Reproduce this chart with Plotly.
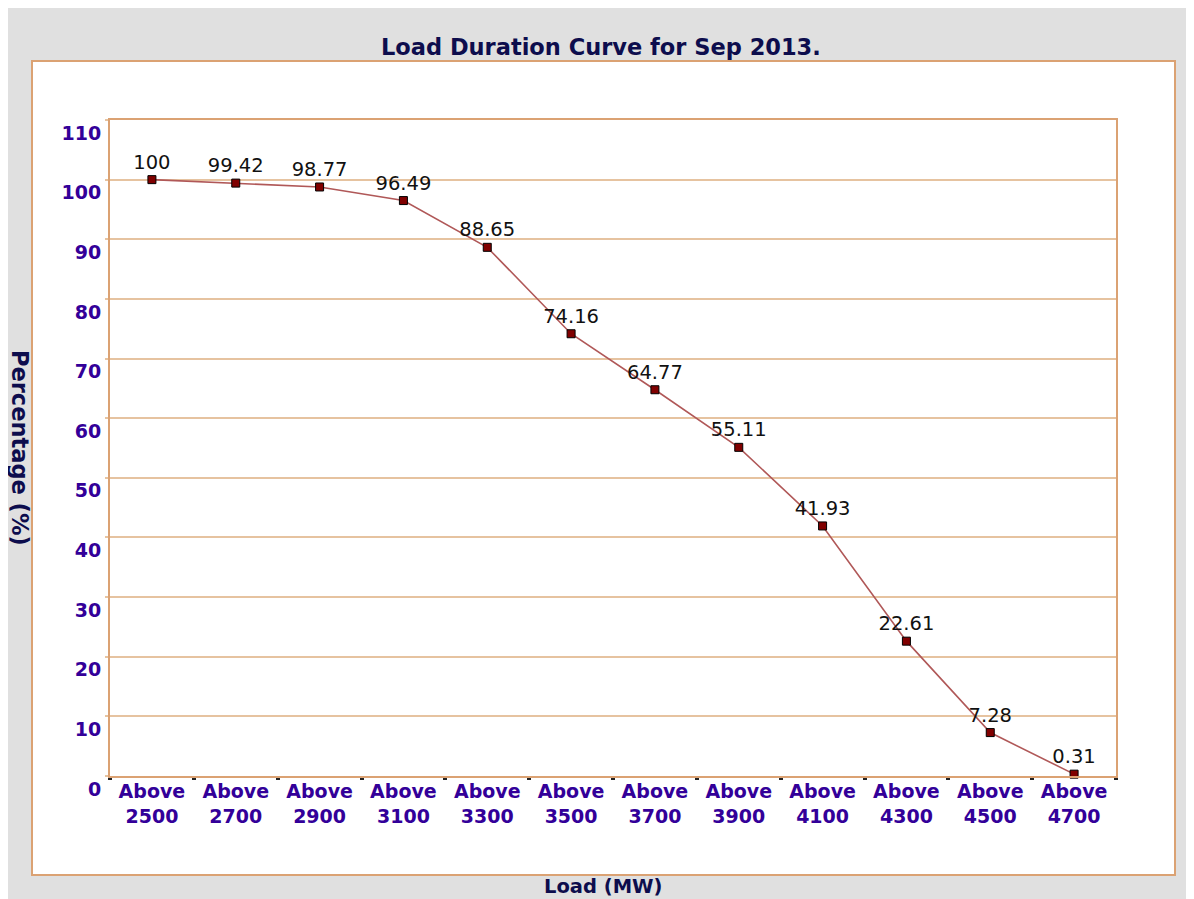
import plotly.graph_objects as go

categories = ["Above<br>2500", "Above<br>2700", "Above<br>2900", "Above<br>3100",
              "Above<br>3300", "Above<br>3500", "Above<br>3700", "Above<br>3900",
              "Above<br>4100", "Above<br>4300", "Above<br>4500", "Above<br>4700"]
percentage = [100, 99.42, 98.77, 96.49, 88.65, 74.16, 64.77, 55.11, 41.93, 22.61, 7.28, 0.31]
value_labels = ["100", "99.42", "98.77", "96.49", "88.65", "74.16", "64.77", "55.11",
                "41.93", "22.61", "7.28", "0.31"]
y_ticks = [0, 10, 20, 30, 40, 50, 60, 70, 80, 90, 100, 110]

# page body has an 8px margin; work in reference pixel coords minus that offset
OFF = 8
W, H = 1194 - OFF, 899 - OFF
L, R, T, B = 110 - OFF, 1116 - OFF, 120 - OFF, 776 - OFF


def px(x):
    return (x - OFF - L) / (R - L)


def py(y):
    return (B - (y - OFF)) / (B - T)


FONT = "DejaVu Sans"
BORDER = "#dba273"
GRID = "#e6c3a0"
TICKC = "#330099"
NAVY = "#0d0d4d"

fig = go.Figure()
fig.add_trace(go.Scatter(
    x=categories, y=percentage, mode="lines+markers+text",
    text=value_labels, textposition="top center",
    textfont=dict(family=FONT, size=19.5, color="#111111"),
    line=dict(color="#b05858", width=1.6),
    marker=dict(symbol="square", size=8, color="#800000", line=dict(color="#000000", width=1)),
    cliponaxis=False, showlegend=False,
))

fig.update_layout(
    width=W, height=H,
    margin=dict(l=L, r=W - R, t=T, b=H - B, pad=0),
    paper_bgcolor="white", plot_bgcolor="white",
    font=dict(family=FONT),
    shapes=[
        dict(type="rect", xref="paper", yref="paper", x0=px(OFF), x1=px(1194), y0=py(899), y1=py(OFF),
             fillcolor="#e0e0e0", line=dict(width=0), layer="below"),
        dict(type="rect", xref="paper", yref="paper", x0=px(32), x1=px(1175), y0=py(875), y1=py(61),
             fillcolor="white", line=dict(color=BORDER, width=2), layer="below"),
    ],
    annotations=[
        dict(text="<b>Load Duration Curve for Sep 2013.</b>", xref="paper", yref="paper",
             x=px(601), y=py(47), xanchor="center", yanchor="middle", showarrow=False,
             font=dict(family=FONT, size=22.5, color=NAVY)),
        dict(text="<b>Percentage (%)</b>", xref="paper", yref="paper",
             x=px(20), y=py(448), xanchor="center", yanchor="middle", showarrow=False,
             textangle=90, font=dict(family=FONT, size=22.5, color=NAVY)),
        dict(text="<b>Load (MW)</b>", xref="paper", yref="paper",
             x=px(603), y=py(886), xanchor="center", yanchor="middle", showarrow=False,
             font=dict(family=FONT, size=19.5, color=NAVY)),
    ],
)

fig.update_xaxes(
    type="category", range=[-0.5, len(categories) - 0.5],
    showgrid=False, showline=True, linecolor=BORDER, linewidth=2, mirror=True,
    ticks="outside", tickson="boundaries", ticklen=2, tickwidth=4, tickcolor="#222222",
    ticklabelstandoff=-3,
    tickfont=dict(family=FONT, size=19, color=TICKC, weight="bold"),
    zeroline=False,
)
fig.update_yaxes(
    range=[0, 110], tickvals=y_ticks, ticktext=[str(v) for v in y_ticks],
    showgrid=True, gridcolor=GRID, gridwidth=2,
    showline=True, linecolor=BORDER, linewidth=2, mirror=True,
    ticks="outside", ticklen=3, tickcolor=GRID, tickwidth=2,
    ticklabelshift=13, ticklabelstandoff=0,
    tickfont=dict(family=FONT, size=19, color=TICKC, weight="bold"),
    zeroline=False,
)

fig.write_html("out.html")
